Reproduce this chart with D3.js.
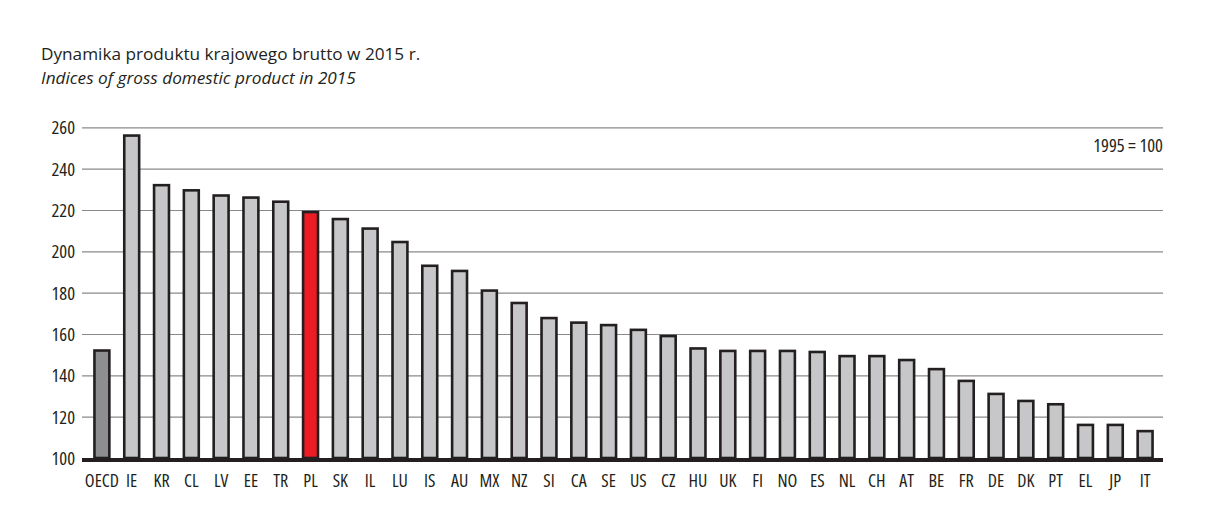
<!DOCTYPE html>
<html>
<head>
<meta charset="utf-8">
<script src="https://cdn.jsdelivr.net/npm/d3@7"></script>
<style>
  html, body { margin: 0; padding: 0; background: #fff; }
  svg { display: block; }
  .cond { font-family: "Liberation Sans Narrow", "Open Sans", sans-serif; font-stretch: condensed; }
  .reg { font-family: "Open Sans", "Liberation Sans", sans-serif; }
</style>
</head>
<body>
<svg id="chart" width="1209" height="521"></svg>
<script>
const categories = ["OECD","IE","KR","CL","LV","EE","TR","PL","SK","IL","LU","IS","AU","MX","NZ","SI","CA","SE","US","CZ","HU","UK","FI","NO","ES","NL","CH","AT","BE","FR","DE","DK","PT","EL","JP","IT"];
const values = [152,256,232,229.5,227,226,224,219,215.6,211,204.5,193,190.5,181,175,167.7,165.5,164.3,162,159,153,151.8,151.8,151.8,151.3,149.3,149.3,147.4,143,137.3,131,127.6,126,116,116,113];
const yTicks = [100,120,140,160,180,200,220,240,260];
const titleLines = ["Dynamika produktu krajowego brutto w 2015 r.", "Indices of gross domestic product in 2015"];
const baseNote = "1995 = 100";

const svg = d3.select("#chart");
const gridLeft = 82, gridRight = 1163;

const y = d3.scaleLinear().domain([100, 260]).range([458, 127.3]);
const x = d3.scaleBand().domain(categories).range([87, 1160]).paddingInner(0.5).paddingOuter(0.25);

// title
svg.append("text").attr("class", "reg").attr("x", 41).attr("y", 60)
  .attr("font-size", 17.2).attr("fill", "#231f20").text(titleLines[0]);
svg.append("text").attr("class", "reg").attr("x", 41).attr("y", 84)
  .attr("font-size", 17.2).attr("font-style", "italic").attr("fill", "#231f20").text(titleLines[1]);

// gridlines
svg.append("g").selectAll("line").data(yTicks.filter(d => d > 100)).join("line")
  .attr("x1", gridLeft).attr("x2", gridRight)
  .attr("y1", d => y(d) + 0.5).attr("y2", d => y(d) + 0.5)
  .attr("stroke", "#8a8a8a").attr("stroke-width", 1.2);

// y axis labels
const yAxis = d3.axisLeft(y).tickValues(yTicks).tickSize(0).tickPadding(0);
const gy = svg.append("g").attr("transform", `translate(75,0)`).call(yAxis);
gy.select(".domain").remove();
gy.selectAll("text").attr("class", "cond").attr("font-size", 18.5).attr("fill", "#231f20").attr("dy", "0.36em");

// bars
svg.append("g").selectAll("rect").data(categories).join("rect")
  .attr("x", d => x(d))
  .attr("width", x.bandwidth())
  .attr("y", (d, i) => y(values[i]))
  .attr("height", (d, i) => y(100) - y(values[i]))
  .attr("fill", d => d === "PL" ? "#ed1c24" : d === "OECD" ? "#8e8e90" : "#c7c7c9")
  .attr("stroke", "#231f20").attr("stroke-width", 2.6);

// baseline axis
svg.append("line").attr("x1", gridLeft).attr("x2", gridRight)
  .attr("y1", y(100) + 2).attr("y2", y(100) + 2)
  .attr("stroke", "#231f20").attr("stroke-width", 4);

// x axis labels
const xAxis = d3.axisBottom(x).tickSize(0).tickPadding(0);
const gx = svg.append("g").attr("transform", `translate(0,${y(100)})`).call(xAxis);
gx.select(".domain").remove();
gx.selectAll("text").attr("class", "cond").attr("font-size", 18).attr("fill", "#231f20")
  .attr("y", 29).attr("dy", 0);

// note
svg.append("text").attr("class", "cond").attr("x", gridRight).attr("y", 152)
  .attr("text-anchor", "end").attr("font-size", 18.5).attr("fill", "#231f20").text(baseNote);
</script>
</body>
</html>
